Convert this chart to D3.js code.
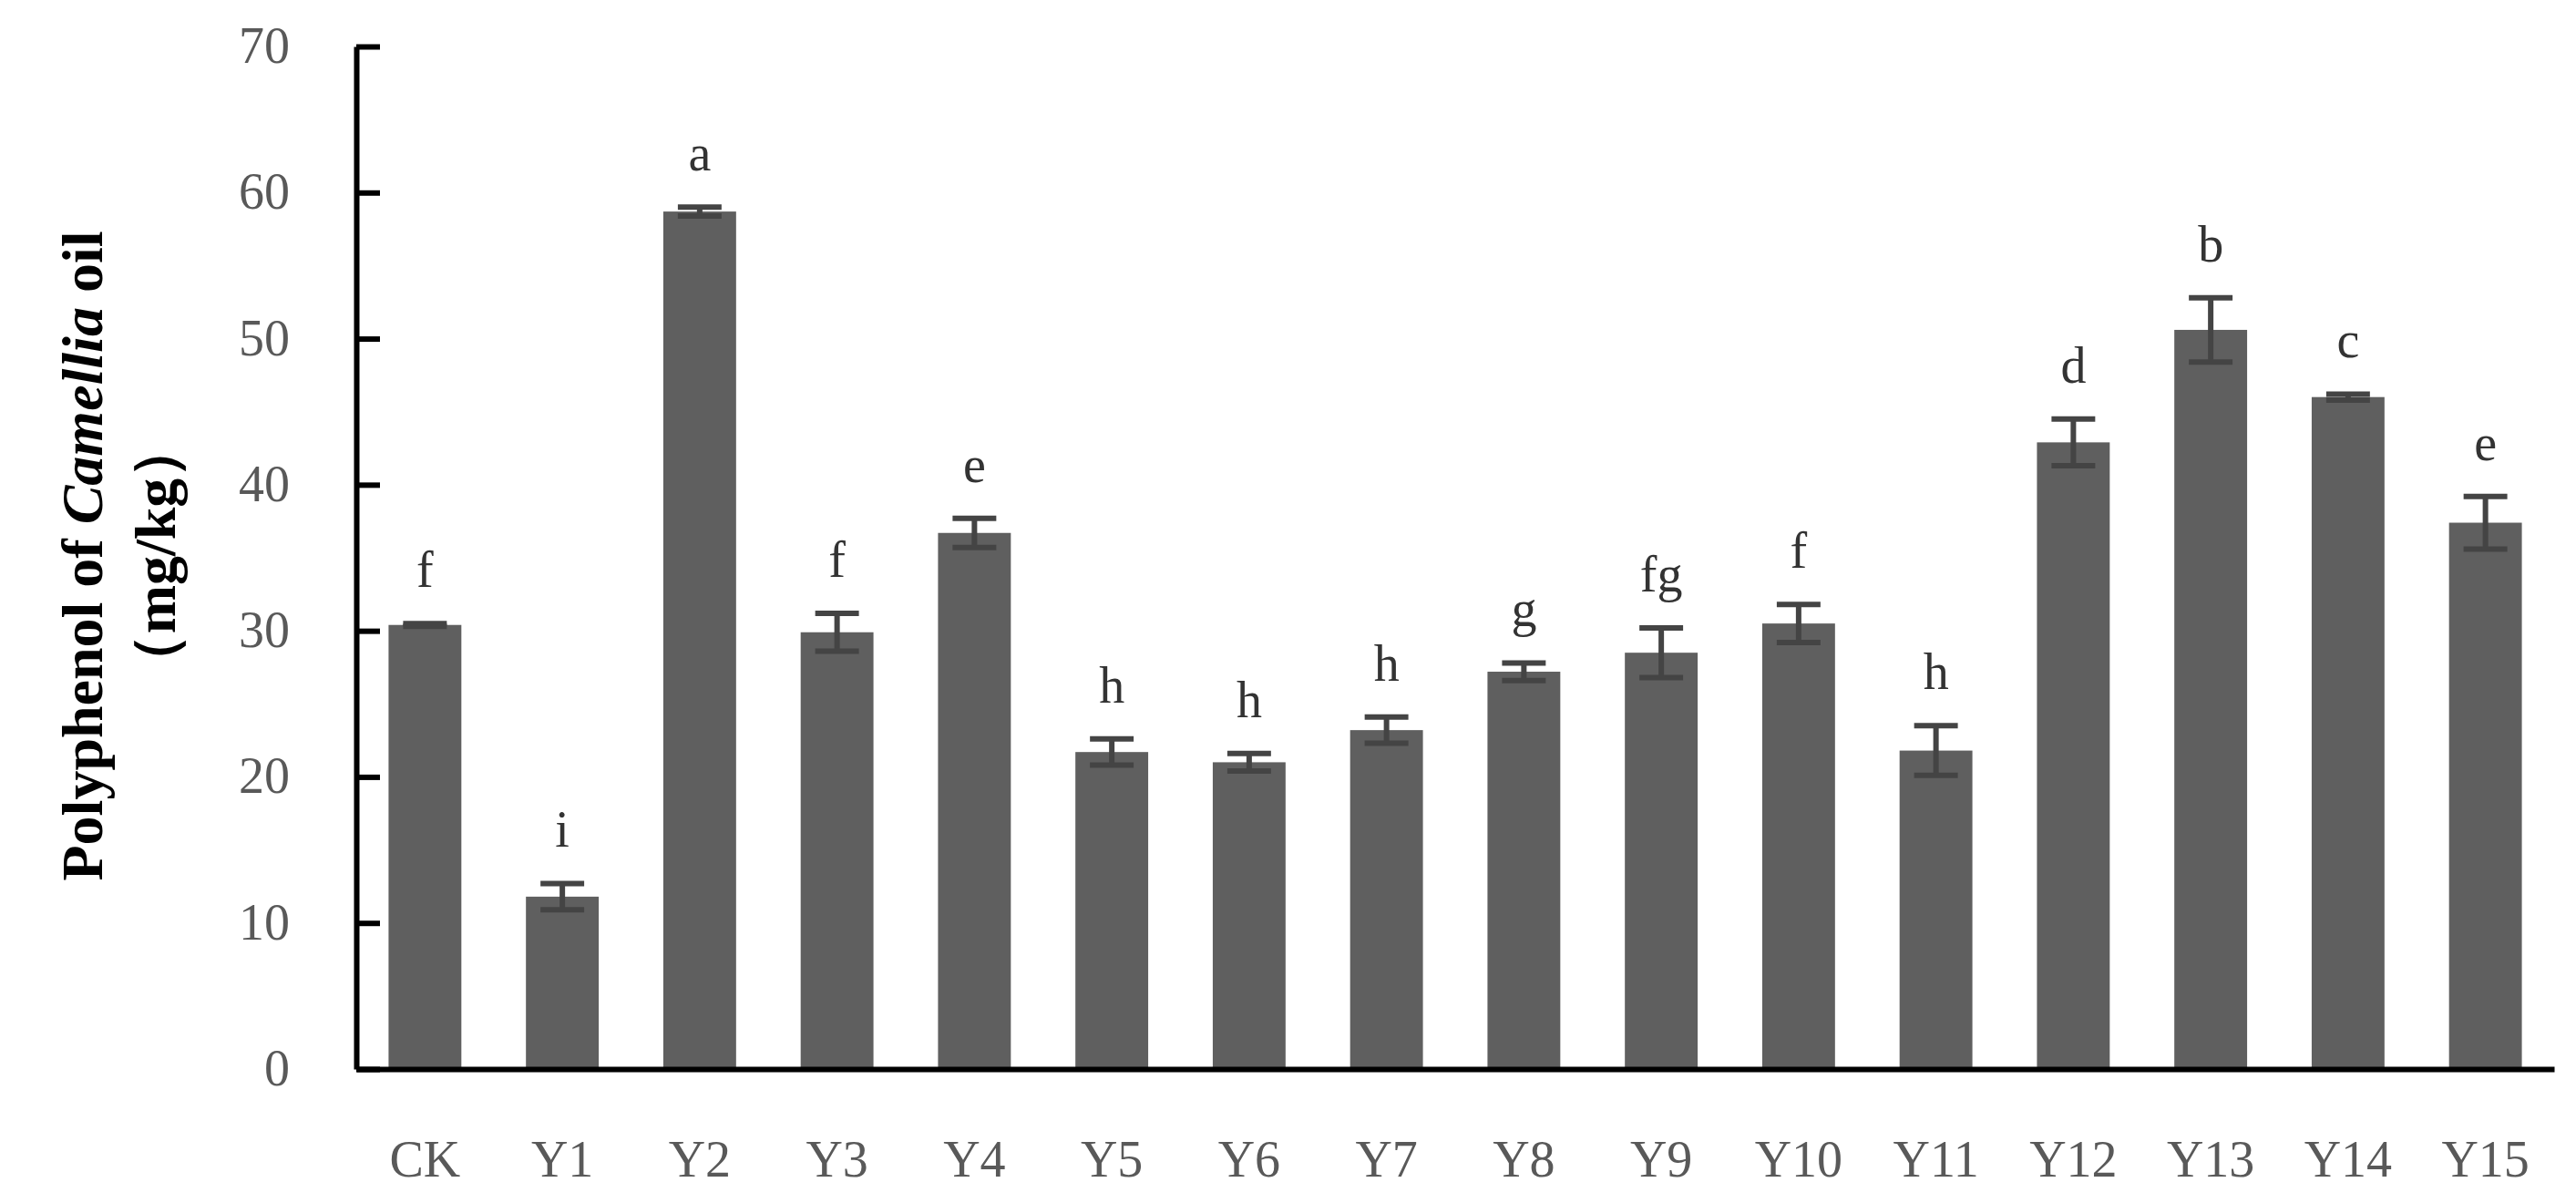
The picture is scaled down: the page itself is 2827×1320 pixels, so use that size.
<!DOCTYPE html>
<html><head><meta charset="utf-8">
<script src="https://cdn.jsdelivr.net/npm/d3@7"></script>
<style>body{margin:0;background:#fff}</style>
</head><body>
<svg id="c" width="2827" height="1320"></svg>
<script>
var categories = ["CK","Y1","Y2","Y3","Y4","Y5","Y6","Y7","Y8","Y9","Y10","Y11","Y12","Y13","Y14","Y15"];
var values = [30.4,11.8,58.7,29.9,36.7,21.7,21.0,23.2,27.2,28.5,30.5,21.8,42.9,50.6,46.0,37.4];
var errors = [0.1,0.9,0.3,1.3,1.0,0.9,0.6,0.9,0.6,1.7,1.3,1.7,1.6,2.2,0.2,1.8];
var letters = ["f","i","a","f","e","h","h","h","g","fg","f","h","d","b","c","e"];
var yTicks = [0,10,20,30,40,50,60,70];

function drawChart() {
  var svg = d3.select("#c");
  var mLeft = 391, mRight = 2803, mTop = 51, mBottom = 1173;
  var font = "'Liberation Serif','DejaVu Serif',serif";

  var x = d3.scaleBand().domain(categories).range([mLeft, mRight]).paddingInner(0.47).paddingOuter(0.235);
  var y = d3.scaleLinear().domain([0,70]).range([mBottom, mTop]);

  // bars
  svg.append("g").selectAll("rect").data(values).enter().append("rect")
    .attr("x", function(d,i){ return x(categories[i]); })
    .attr("width", x.bandwidth())
    .attr("y", function(d){ return y(d); })
    .attr("height", function(d){ return y(0) - y(d); })
    .attr("fill", "#5f5f5f");

  // error bars
  var eb = svg.append("g").attr("stroke", "#444").attr("stroke-width", 6);
  values.forEach(function(d,i){
    var cx = x(categories[i]) + x.bandwidth()/2, w = x.bandwidth()*0.3;
    eb.append("line").attr("x1",cx).attr("x2",cx).attr("y1",y(d-errors[i])).attr("y2",y(d+errors[i]));
    eb.append("line").attr("x1",cx-w).attr("x2",cx+w).attr("y1",y(d+errors[i])).attr("y2",y(d+errors[i]));
    eb.append("line").attr("x1",cx-w).attr("x2",cx+w).attr("y1",y(d-errors[i])).attr("y2",y(d-errors[i]));
  });

  // significance letters
  svg.append("g").selectAll("text").data(letters).enter().append("text")
    .attr("x", function(d,i){ return x(categories[i]) + x.bandwidth()/2; })
    .attr("y", function(d,i){ return y(values[i] + errors[i]) - 40; })
    .attr("text-anchor","middle").attr("font-family",font).attr("font-size",56).attr("fill","#333")
    .text(function(d){ return d; });

  // y axis
  var ya = svg.append("g").attr("transform","translate("+mLeft+",0)")
    .call(d3.axisRight(y).tickValues(yTicks).tickSize(26).tickFormat("").tickSizeOuter(0));
  ya.selectAll("line,path").attr("stroke","#000").attr("stroke-width",6);
  svg.append("g").selectAll("text").data(yTicks).enter().append("text")
    .attr("x", 318).attr("y", function(d){ return y(d) + 18; })
    .attr("text-anchor","end").attr("font-family",font).attr("font-size",56).attr("fill","#595959")
    .text(function(d){ return d; });

  // x axis
  var xa = svg.append("g").attr("transform","translate(0,"+mBottom+")")
    .call(d3.axisBottom(x).tickSize(0).tickPadding(78).tickSizeOuter(0));
  xa.select("path").attr("stroke","#000").attr("stroke-width",6);
  xa.selectAll("text").attr("font-family",font).attr("font-size",56).attr("fill","#595959");

  // y title
  var t = svg.append("text").attr("transform","translate(112,610) rotate(-90)")
    .attr("text-anchor","middle").attr("font-family",font).attr("font-size",64).attr("font-weight","bold").attr("fill","#000");
  t.append("tspan").text("Polyphenol of ");
  t.append("tspan").attr("font-style","italic").text("Camellia");
  t.append("tspan").text(" oil");
  svg.append("text").attr("transform","translate(192,610) rotate(-90)")
    .attr("text-anchor","middle").attr("font-family",font).attr("font-size",64).attr("font-weight","bold").attr("fill","#000")
    .text("（mg/kg）");
}
drawChart();
</script>
</body></html>
